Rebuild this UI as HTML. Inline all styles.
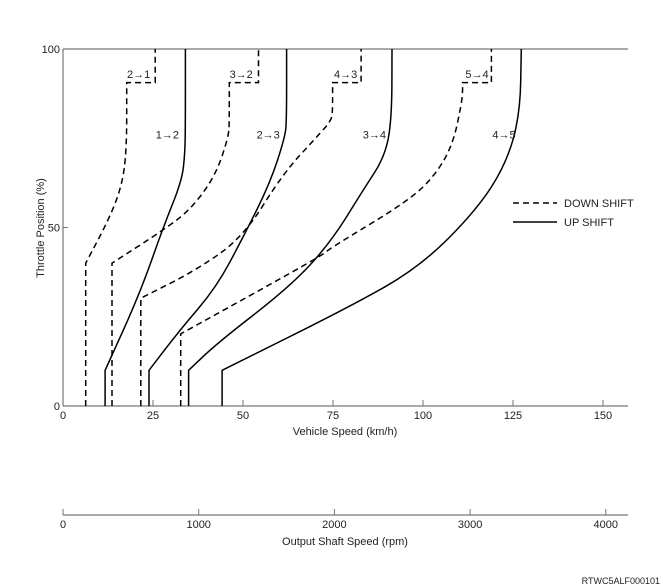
<!DOCTYPE html>
<html><head><meta charset="utf-8"><style>
body{margin:0;background:#fff}
svg{display:block;font-family:"Liberation Sans",Arial,sans-serif}
</style></head><body>
<svg id="chart" width="663" height="588" viewBox="0 0 663 588"></svg>
<script>
const xTicks=[0,25,50,75,100,125,150];
const yTicks=[0,50,100];
const rpmTicks=[0,1000,2000,3000,4000];
const up12=[[11.7,0],[11.7,10],[21.4,31.6],[27.9,50.2],[33,63],[33.9,70.8],[34,80],[34,100]];
const up23=[[23.9,0],[23.9,10],[32.5,21.3],[42.7,33.4],[50.1,47.4],[57.5,62.4],[61.7,75.4],[62.1,80],[62.1,100]];
const up34=[[34.9,0],[34.9,10],[42.7,17.5],[63,33.4],[74.2,45.6],[83.4,60.5],[89.4,69.8],[91.3,80.1],[91.4,100]];
const up45=[[44.2,0],[44.2,10],[79.7,27.8],[99.2,39],[114.9,54.9],[123.2,68],[127,82],[127.3,100]];
const dn21=[[6.3,0],[6.3,40],[12.6,52],[16.3,61.4],[17.7,71.7],[17.7,90.6],[25.6,90.6],[25.6,100]];
const dn32=[[13.6,0],[13.6,40],[27.9,49.3],[35.3,54.9],[42.2,64.2],[46,75.4],[46.2,80],[46.2,90.6],[54.3,90.6],[54.3,100]];
const dn43=[[21.6,0],[21.6,30.2],[37.1,38.1],[50.1,47.4],[61.2,65.2],[70.5,75.4],[74.6,80],[74.9,83],[74.9,90.6],[82.8,90.6],[82.8,100]];
const dn54=[[32.7,0],[32.7,20.2],[71.4,41.8],[74.2,44.2],[96.4,57.7],[103.8,65.2],[108.4,73.6],[110.7,84.8],[111,88],[111,90.6],[119,90.6],[119,100]];
const upLabels=[["1→2",29,76],["2→3",57,76],["3→4",86.5,76],["4→5",122.5,76]];
const dnLabels=[["2→1",21,93],["3→2",49.5,93],["4→3",78.5,93],["5→4",115,93]];

const NS="http://www.w3.org/2000/svg";
const svg=document.getElementById('chart');
const X=v=>63+3.6*v, Y=t=>406-3.57*t, R=r=>63+0.1357*r;
function mk(tag,attrs,text){const e=document.createElementNS(NS,tag);for(const k in attrs)e.setAttribute(k,attrs[k]);if(text!==undefined)e.textContent=text;svg.appendChild(e);return e;}

let e;
e=mk('line',{x1:63,y1:49,x2:628,y2:49,stroke:'#777','stroke-width':1.2});


e=mk('line',{x1:63,y1:49,x2:63,y2:406,stroke:'#777','stroke-width':1.2});


e=mk('line',{x1:63,y1:406,x2:628,y2:406,stroke:'#777','stroke-width':1.2});


xTicks.forEach(v=>{
  e=mk('line',{x1:X(v),y1:406,x2:X(v),y2:400,stroke:'#777'});
  
  
  e=mk('text',{x:X(v),y:419,'font-size':11,'text-anchor':'middle',fill:'#222'},String(v));
  
  
});
yTicks.forEach(t=>{
  e=mk('line',{x1:63,y1:Y(t),x2:68,y2:Y(t),stroke:'#777'});
  
  
  e=mk('text',{x:60,y:Y(t)+4,'font-size':11,'text-anchor':'end',fill:'#222'},String(t));
  
  
});
e=mk('line',{x1:63,y1:515,x2:628,y2:515,stroke:'#777','stroke-width':1.2});


rpmTicks.forEach(r=>{
  e=mk('line',{x1:R(r),y1:515,x2:R(r),y2:509,stroke:'#777'});
  
  
  e=mk('text',{x:R(r),y:528,'font-size':11,'text-anchor':'middle',fill:'#222'},String(r));
  
  
});
e=mk('text',{x:345,y:435,'font-size':11,'text-anchor':'middle',fill:'#222'},'Vehicle Speed (km/h)');


e=mk('text',{x:345,y:545,'font-size':11,'text-anchor':'middle',fill:'#222'},'Output Shaft Speed (rpm)');


e=mk('text',{x:0,y:0,'font-size':11,'text-anchor':'middle',fill:'#222',transform:'translate(44,228) rotate(-90)'},'Throttle Position (%)');


e=mk('text',{x:660,y:584,'font-size':9,'text-anchor':'end',fill:'#222'},'RTWC5ALF000101');



function ortho(a,b){return Math.abs(a[0]-b[0])<0.01||Math.abs(a[1]-b[1])<0.01;}
function path(d){
  const p=d.map(q=>[X(q[0]),Y(q[1])]);
  const f=q=>q[0].toFixed(1)+' '+q[1].toFixed(1);
  const mid=(a,b)=>[(a[0]+b[0])/2,(a[1]+b[1])/2];
  let s='M'+f(p[0]);
  for(let i=1;i<p.length-1;i++){
    const a=d[i-1],b=d[i];
    if(!ortho(a,b)){
      s+=' L'+f(mid(p[i-1],p[i]))+' Q'+f(p[i])+' '+f(mid(p[i],p[i+1]));
    } else s+=' L'+f(p[i]);
  }
  return s+' L'+f(p[p.length-1]);
}
[['upshift-1-2',up12],['upshift-2-3',up23],['upshift-3-4',up34],['upshift-4-5',up45]].forEach(([n,d])=>{
  e=mk('path',{d:path(d),fill:'none',stroke:'#000','stroke-width':1.5,'stroke-linejoin':'round'});
  
  
});
[['downshift-2-1',dn21],['downshift-3-2',dn32],['downshift-4-3',dn43],['downshift-5-4',dn54]].forEach(([n,d])=>{
  e=mk('path',{d:path(d),fill:'none',stroke:'#000','stroke-width':1.5,'stroke-dasharray':'6,4'});
  
  
});
upLabels.concat(dnLabels).forEach(([s,v,t])=>{
  e=mk('text',{x:X(v),y:Y(t)+4,'font-size':11,'text-anchor':'middle',fill:'#222'},s);
  
  
});
e=mk('line',{x1:513,y1:203,x2:557,y2:203,stroke:'#000','stroke-width':1.5,'stroke-dasharray':'6,4'});


e=mk('text',{x:564,y:207,'font-size':11,fill:'#222'},'DOWN SHIFT');


e=mk('line',{x1:513,y1:222,x2:557,y2:222,stroke:'#000','stroke-width':1.5});


e=mk('text',{x:564,y:226,'font-size':11,fill:'#222'},'UP SHIFT');


</script>
</body></html>
